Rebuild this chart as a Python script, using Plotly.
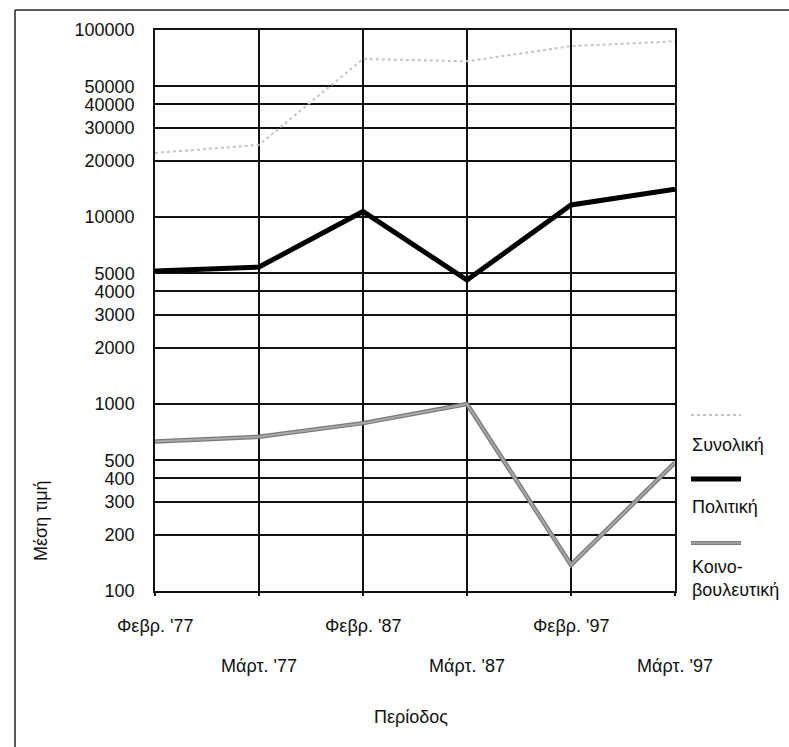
import plotly.graph_objects as go

categories = ["Φεβρ. '77", "Μάρτ. '77", "Φεβρ. '87", "Μάρτ. '87", "Φεβρ. '97", "Μάρτ. '97"]
synoliki = [22000, 24300, 70000, 68000, 82000, 87000]
politiki = [5150, 5400, 10700, 4600, 11600, 14100]
koinovouleftiki = [630, 668, 790, 1000, 138, 486]
ytick_vals = [100, 200, 300, 400, 500, 1000, 2000, 3000, 4000, 5000,
              10000, 20000, 30000, 40000, 50000, 100000]
ytick_text = [str(v) for v in ytick_vals]

W, H = 789, 747
L, R, T, B = 155, 675, 30, 591
FONT = "Liberation Sans, Arial, sans-serif"
FS = 18


def fx(p):
    return (p - L) / (R - L)


def fy(p):
    return (B - p) / (B - T)


xs = list(range(len(categories)))

fig = go.Figure()
fig.add_trace(go.Scatter(x=xs, y=synoliki, mode="lines", name="Συνολική",
                         line=dict(color="#c4c4c4", width=2, dash="dot")))
fig.add_trace(go.Scatter(x=xs, y=politiki, mode="lines", name="Πολιτική",
                         line=dict(color="#000000", width=5)))
fig.add_trace(go.Scatter(x=xs, y=koinovouleftiki, mode="lines", name="Κοινοβουλευτική",
                         line=dict(color="#7a7a7a", width=4.5)))
fig.add_trace(go.Scatter(x=xs, y=koinovouleftiki, mode="lines", showlegend=False,
                         line=dict(color="#a8a8a8", width=2)))

annotations = []
for i, c in enumerate(categories):
    row_y = 626 if i % 2 == 0 else 666
    annotations.append(dict(x=i, xref="x", y=fy(row_y), yref="paper", text=c,
                            showarrow=False, xanchor="center", yanchor="middle",
                            font=dict(family=FONT, size=FS, color="#111")))
annotations.append(dict(x=fx(411), xref="paper", y=fy(717), yref="paper", text="Περίοδος",
                        showarrow=False, xanchor="center", yanchor="middle",
                        font=dict(family=FONT, size=FS, color="#111")))
annotations.append(dict(x=fx(41), xref="paper", y=fy(521), yref="paper", text="Μέση τιμή",
                        textangle=-90, showarrow=False, xanchor="center", yanchor="middle",
                        font=dict(family=FONT, size=FS, color="#111")))
legend_text = [("Συνολική", 445), ("Πολιτική", 507), ("Κοινο-", 567), ("βουλευτική", 590)]
for t, yy in legend_text:
    annotations.append(dict(x=fx(690), xref="paper", y=fy(yy), yref="paper", text=t,
                            showarrow=False, xanchor="left", yanchor="middle",
                            font=dict(family=FONT, size=FS, color="#111")))

shapes = [
    # outer frame
    dict(type="line", xref="paper", yref="paper", x0=fx(15), x1=fx(800), y0=fy(10), y1=fy(10),
         line=dict(color="#222", width=1.5)),
    dict(type="line", xref="paper", yref="paper", x0=fx(15), x1=fx(15), y0=fy(10), y1=fy(760),
         line=dict(color="#222", width=1.5)),
    # legend swatches
    dict(type="line", xref="paper", yref="paper", x0=fx(691), x1=fx(741), y0=fy(415), y1=fy(415),
         line=dict(color="#c4c4c4", width=2, dash="dot")),
    dict(type="line", xref="paper", yref="paper", x0=fx(691), x1=fx(741), y0=fy(479), y1=fy(479),
         line=dict(color="#000", width=5)),
    dict(type="line", xref="paper", yref="paper", x0=fx(691), x1=fx(741), y0=fy(543), y1=fy(543),
         line=dict(color="#7a7a7a", width=4)),
    dict(type="line", xref="paper", yref="paper", x0=fx(691), x1=fx(741), y0=fy(543), y1=fy(543),
         line=dict(color="#a8a8a8", width=1.5)),
]

fig.update_layout(
    width=W, height=H, autosize=False,
    margin=dict(l=L, r=W - R, t=T, b=H - B, pad=0),
    paper_bgcolor="white", plot_bgcolor="white",
    showlegend=False,
    font=dict(family=FONT, size=FS, color="#111"),
    annotations=annotations, shapes=shapes,
)
fig.update_xaxes(range=[0, len(categories) - 1], tickvals=xs, showticklabels=False,
                 showgrid=True, gridcolor="#111", gridwidth=1.5,
                 ticks="outside", ticklen=3, tickcolor="#111", tickwidth=2,
                 showline=True, linecolor="#111", linewidth=1.5, mirror=True, zeroline=False)
fig.update_yaxes(type="log", range=[2, 5], tickvals=ytick_vals, ticktext=ytick_text,
                 showgrid=True, gridcolor="#111", gridwidth=1.5, ticks="",
                 ticklabelstandoff=15,
                 showline=True, linecolor="#111", linewidth=1.5, mirror=True, zeroline=False,
                 tickfont=dict(family=FONT, size=FS, color="#111"))

fig.write_html("out.html", config={"displayModeBar": False},
               post_script="document.body.style.margin='0';document.body.style.overflow='hidden';")
